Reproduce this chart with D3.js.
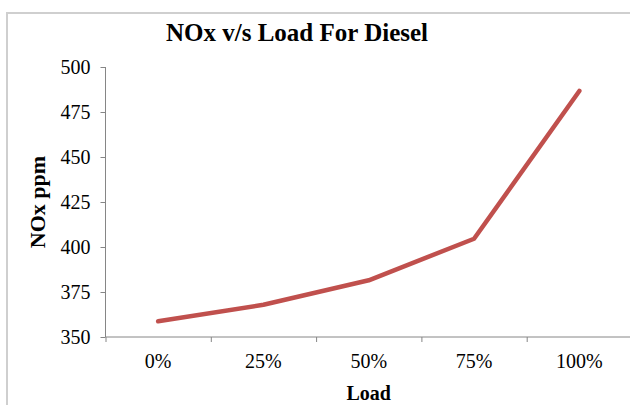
<!DOCTYPE html>
<html>
<head>
<meta charset="utf-8">
<script src="https://cdnjs.cloudflare.com/ajax/libs/d3/7.8.5/d3.min.js"></script>
<style>
  body { margin: 0; background: #fff; }
  text { font-family: "Liberation Serif", "Times New Roman", serif; fill: #000; }
</style>
</head>
<body>
<div id="chart"></div>
<script>
const width = 630
const height = 405

const loads = ["0%", "25%", "50%", "75%", "100%"]
const noxValues = [358.7, 367.9, 381.5, 404.6, 486.7]
const yTicks = [350, 375, 400, 425, 450, 475, 500]

const margin = { top: 67, bottom: 68, left: 105.5, right: -2 }

const svg = d3.select("#chart").append("svg").attr("width", width).attr("height", height)

// outer chart border
svg.append("rect")
    .attr("x", 7).attr("y", 13)
    .attr("width", 640).attr("height", 420)
    .attr("fill", "none").attr("stroke", "#cfcfcf").attr("stroke-width", 2)

const x = d3.scaleBand().domain(loads).range([margin.left, width - margin.right]).padding(0)
const y = d3.scaleLinear().domain([350, 500]).range([height - margin.bottom, margin.top])
const edges = d3.scaleLinear().domain([0, loads.length]).range(x.range())

const axisColor = "#868686"

// y axis
const yAxisGroup = svg.append("g").attr("transform", `translate(${margin.left},0)`)
    .call(d3.axisLeft(y).tickValues(yTicks).tickSize(5).tickPadding(10))
yAxisGroup.selectAll("line, path").attr("stroke", axisColor)
yAxisGroup.select(".domain").attr("d", `M0,${y(500)}V${y(350)}`)
yAxisGroup.selectAll("text").style("font-size", "20px").attr("fill", "#000")

// x axis: ticks at the category boundaries
const xBase = y(350)
const xEdgeGroup = svg.append("g").attr("transform", `translate(0,${xBase})`)
    .call(d3.axisBottom(edges).tickValues(d3.range(loads.length + 1)).tickSize(5).tickFormat(""))
xEdgeGroup.selectAll("line, path").attr("stroke", axisColor)
xEdgeGroup.select(".domain").attr("d", `M${margin.left},0H${width - margin.right}`)

const xLabelGroup = svg.append("g").attr("transform", `translate(0,${xBase})`)
    .call(d3.axisBottom(x).tickSize(0).tickPadding(17))
xLabelGroup.select(".domain").remove()
xLabelGroup.selectAll("text").style("font-size", "20px").attr("fill", "#000")

// line
const line = d3.line()
    .x((d, i) => x(loads[i]) + x.bandwidth() / 2)
    .y(d => y(d))

svg.append("path")
    .datum(noxValues)
    .attr("d", line)
    .attr("fill", "none")
    .attr("stroke", "#c0504d")
    .attr("stroke-width", 4.5)
    .attr("stroke-linecap", "round")
    .attr("stroke-linejoin", "round")

// titles
svg.append("text")
    .attr("x", 297).attr("y", 41)
    .attr("text-anchor", "middle")
    .style("font-size", "25px").style("font-weight", "bold")
    .text("NOx v/s Load For Diesel")

svg.append("text")
    .attr("x", (margin.left + width - margin.right) / 2).attr("y", 400)
    .attr("text-anchor", "middle")
    .style("font-size", "20px").style("font-weight", "bold")
    .text("Load")

svg.append("text")
    .attr("transform", `translate(45,${(y(350) + y(500)) / 2}) rotate(-90)`)
    .attr("text-anchor", "middle")
    .style("font-size", "22px").style("font-weight", "bold")
    .text("NOx ppm")
</script>
</body>
</html>
